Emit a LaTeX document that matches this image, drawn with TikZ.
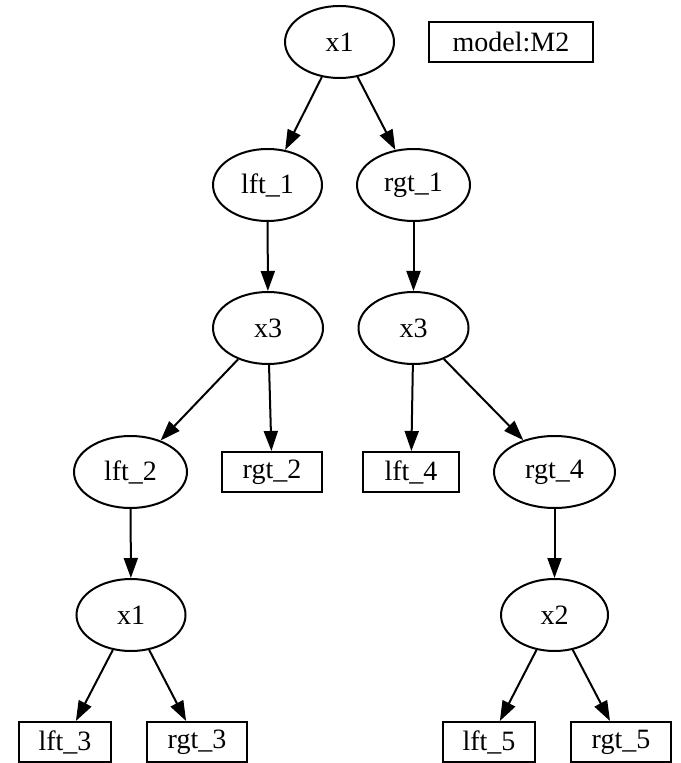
\documentclass[tikz,border=0pt]{standalone}
\usepackage{fontspec}
\setmainfont{Liberation Serif}
\usetikzlibrary{shapes.geometric,arrows.meta}
\begin{document}
\begin{tikzpicture}[x=0.5pt,y=-0.5pt,
  every node/.style={font=\fontsize{14pt}{16pt}\selectfont, line width=1pt},
  ell/.style={draw, ellipse, inner sep=0pt, minimum height=36pt, minimum width=#1},
  ell/.default=54.5pt,
  leaf/.style={draw, rectangle, inner sep=0pt, minimum height=20pt, minimum width=#1},
  arc/.style={line width=1pt, -{Triangle[length=10pt,width=7pt]}}]
\useasboundingbox (0,0) rectangle (680,763);

% split nodes and leaves
\node[ell]        (r)   at (339.5,42)  {x1};
\node[leaf=82pt]  (mdl) at (511,42)    {model:M2};
\node[ell]        (l1)  at (267.5,185) {lft\_1};
\node[ell=56.5pt] (g1)  at (413.5,185) {rgt\_1};
\node[ell=55pt]   (a3)  at (268,328)   {x3};
\node[ell=55pt]   (b3)  at (413.5,328) {x3};
\node[ell=56.5pt] (l2)  at (130.5,472) {lft\_2};
\node[leaf=50pt]  (g2)  at (272,472)   {rgt\_2};
\node[leaf=48pt]  (l4)  at (411,472)   {lft\_4};
\node[ell=60.5pt] (g4)  at (554.5,472) {rgt\_4};
\node[ell]        (c1)  at (131,615)   {x1};
\node[ell=53.5pt] (d2)  at (554.5,615) {x2};
\node[leaf=46pt]  (l3)  at (65,742)    {lft\_3};
\node[leaf=50pt]  (g3)  at (197,742)   {rgt\_3};
\node[leaf=46pt]  (l5)  at (489,742)   {lft\_5};
\node[leaf=50pt]  (g5)  at (621,742)   {rgt\_5};

% edges
\draw[arc] (r)  -- (l1);
\draw[arc] (r)  -- (g1);
\draw[arc] (l1) -- (a3);
\draw[arc] (g1) -- (b3);
\draw[arc] (a3) -- (l2);
\draw[arc] (a3) -- (g2);
\draw[arc] (b3) -- (l4);
\draw[arc] (b3) -- (g4);
\draw[arc] (l2) -- (c1);
\draw[arc] (g4) -- (d2);
\draw[arc] (c1) -- (l3);
\draw[arc] (c1) -- (g3);
\draw[arc] (d2) -- (l5);
\draw[arc] (d2) -- (g5);
\end{tikzpicture}
\end{document}
